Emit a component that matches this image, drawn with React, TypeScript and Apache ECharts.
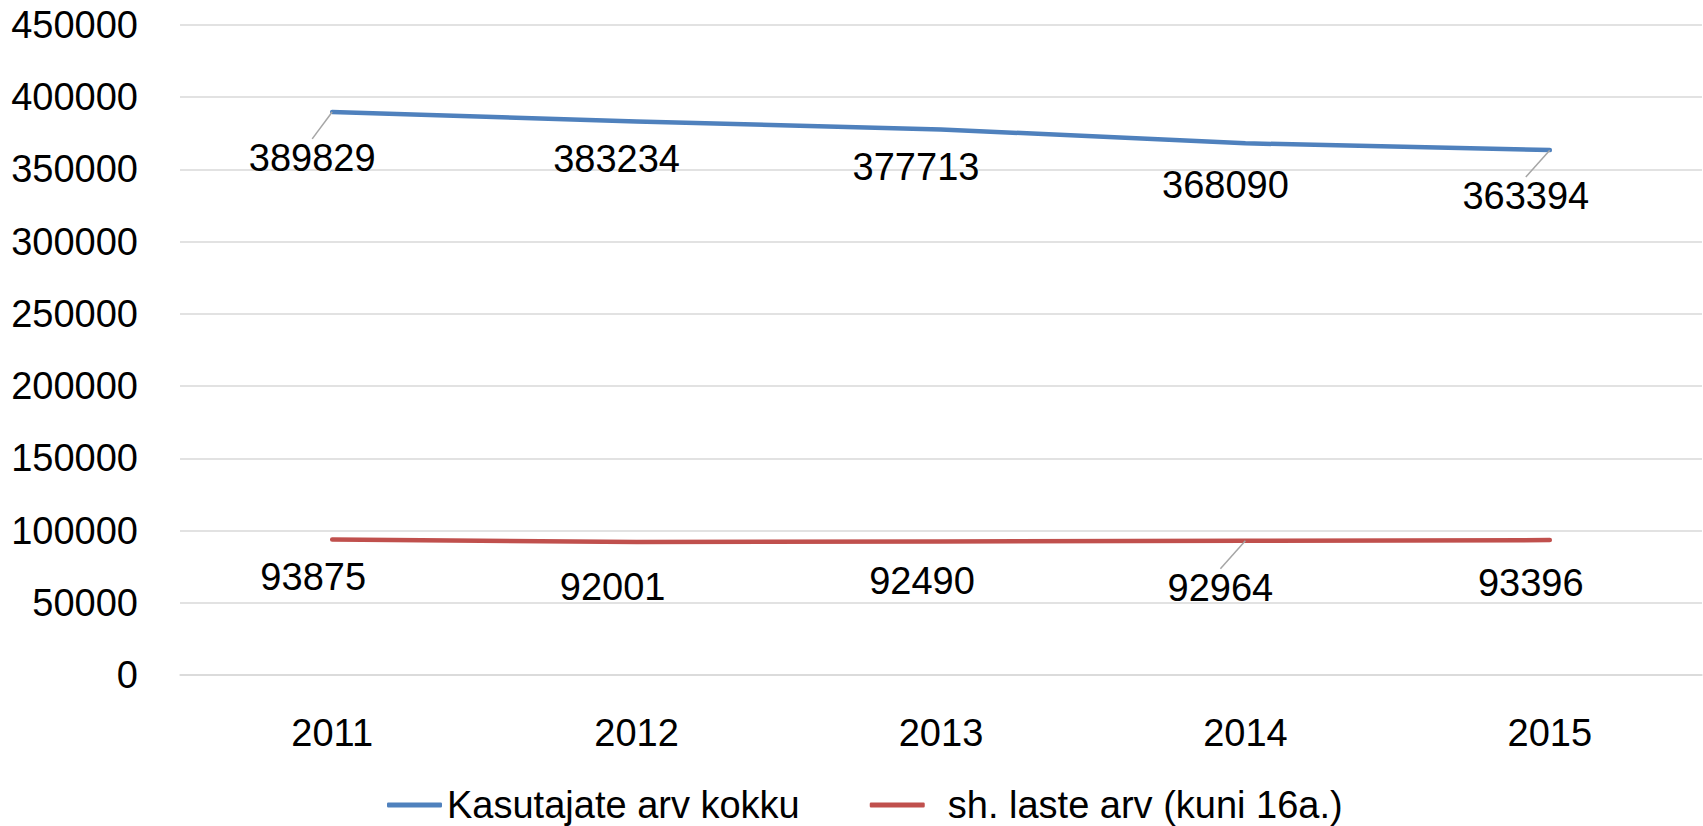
import React, { useEffect, useRef } from "react";
import * as echarts from "echarts";

const years = ["2011", "2012", "2013", "2014", "2015"];
const totalUsers = [389829, 383234, 377713, 368090, 363394];
const childUsers = [93875, 92001, 92490, 92964, 93396];
const seriesNames = ["Kasutajate arv kokku", "sh. laste arv (kuni 16a.)"];

// label placement (layout only): shift of each value label from its point, in px
const totalLabelShift = [[-20, 46], [-20, 37.5], [-25, 38], [-20, 42], [-24, 46]];
const childLabelShift = [[-19, 38], [-24, 45], [-19, 40], [-25, 47], [-19, 43]];
const totalLeader = [true, false, false, false, true];
const childLeader = [false, false, false, true, false];

const FONT = "'Liberation Sans', Arial, sans-serif";
const BLUE = "#4f81bd";
const RED = "#c0504d";

export default function App() {
  const ref = useRef<HTMLDivElement>(null);
  useEffect(() => {
    document.body.style.margin = "0";
    const chart = echarts.init(ref.current!, null, { renderer: "svg" });
    const mk = (vals: number[], leaders: boolean[]) =>
      vals.map((v, i) => ({ value: v, labelLine: { show: leaders[i] } }));
    const labelCfg = {
      show: true,
      position: "inside",
      color: "#000",
      fontSize: 38,
      fontFamily: FONT,
    };
    const labelLineCfg = {
      show: false,
      lineStyle: { color: "#a6a6a6", width: 1.5 },
    };
    chart.setOption({
      animation: false,
      textStyle: { fontFamily: FONT },
      grid: { left: 180, right: 1, top: 25, bottom: 151, containLabel: false },
      xAxis: {
        type: "category",
        data: years,
        boundaryGap: true,
        axisTick: { show: false },
        axisLine: { lineStyle: { color: "#d9d9d9", width: 1.5 } },
        axisLabel: { color: "#000", fontSize: 38, fontFamily: FONT, margin: 39 },
      },
      yAxis: {
        type: "value",
        min: 0,
        max: 450000,
        interval: 50000,
        axisLine: { show: false },
        axisTick: { show: false },
        splitLine: { lineStyle: { color: "#d9d9d9", width: 1.5 } },
        axisLabel: {
          color: "#000",
          fontSize: 38,
          fontFamily: FONT,
          margin: 42,
          formatter: (v: number) => String(v),
        },
      },
      legend: {
        left: 382,
        top: 781,
        icon: "roundRect",
        itemWidth: 55,
        itemHeight: 5,
        itemGap: 70,
        textStyle: { color: "#000", fontSize: 38, fontFamily: FONT },
        data: [
          { name: seriesNames[0] },
          { name: seriesNames[1], textStyle: { padding: [0, 0, 0, 18] } },
        ],
      },
      series: [
        {
          name: seriesNames[0],
          type: "line",
          data: mk(totalUsers, totalLeader),
          symbol: "circle",
          symbolSize: 0.1,
          itemStyle: { color: BLUE },
          lineStyle: { color: BLUE, width: 4.5, cap: "round", join: "round" },
          label: labelCfg,
          labelLine: labelLineCfg,
          labelLayout: (p: any) => {
            const s = totalLabelShift[p.dataIndex];
            return { dx: s[0], dy: s[1] };
          },
        },
        {
          name: seriesNames[1],
          type: "line",
          data: mk(childUsers, childLeader),
          symbol: "circle",
          symbolSize: 0.1,
          itemStyle: { color: RED },
          lineStyle: { color: RED, width: 4.5, cap: "round", join: "round" },
          label: labelCfg,
          labelLine: labelLineCfg,
          labelLayout: (p: any) => {
            const s = childLabelShift[p.dataIndex];
            return { dx: s[0], dy: s[1] };
          },
        },
      ],
    });
    return () => chart.dispose();
  }, []);
  return <div ref={ref} style={{ width: 1703, height: 826 }} />;
}
